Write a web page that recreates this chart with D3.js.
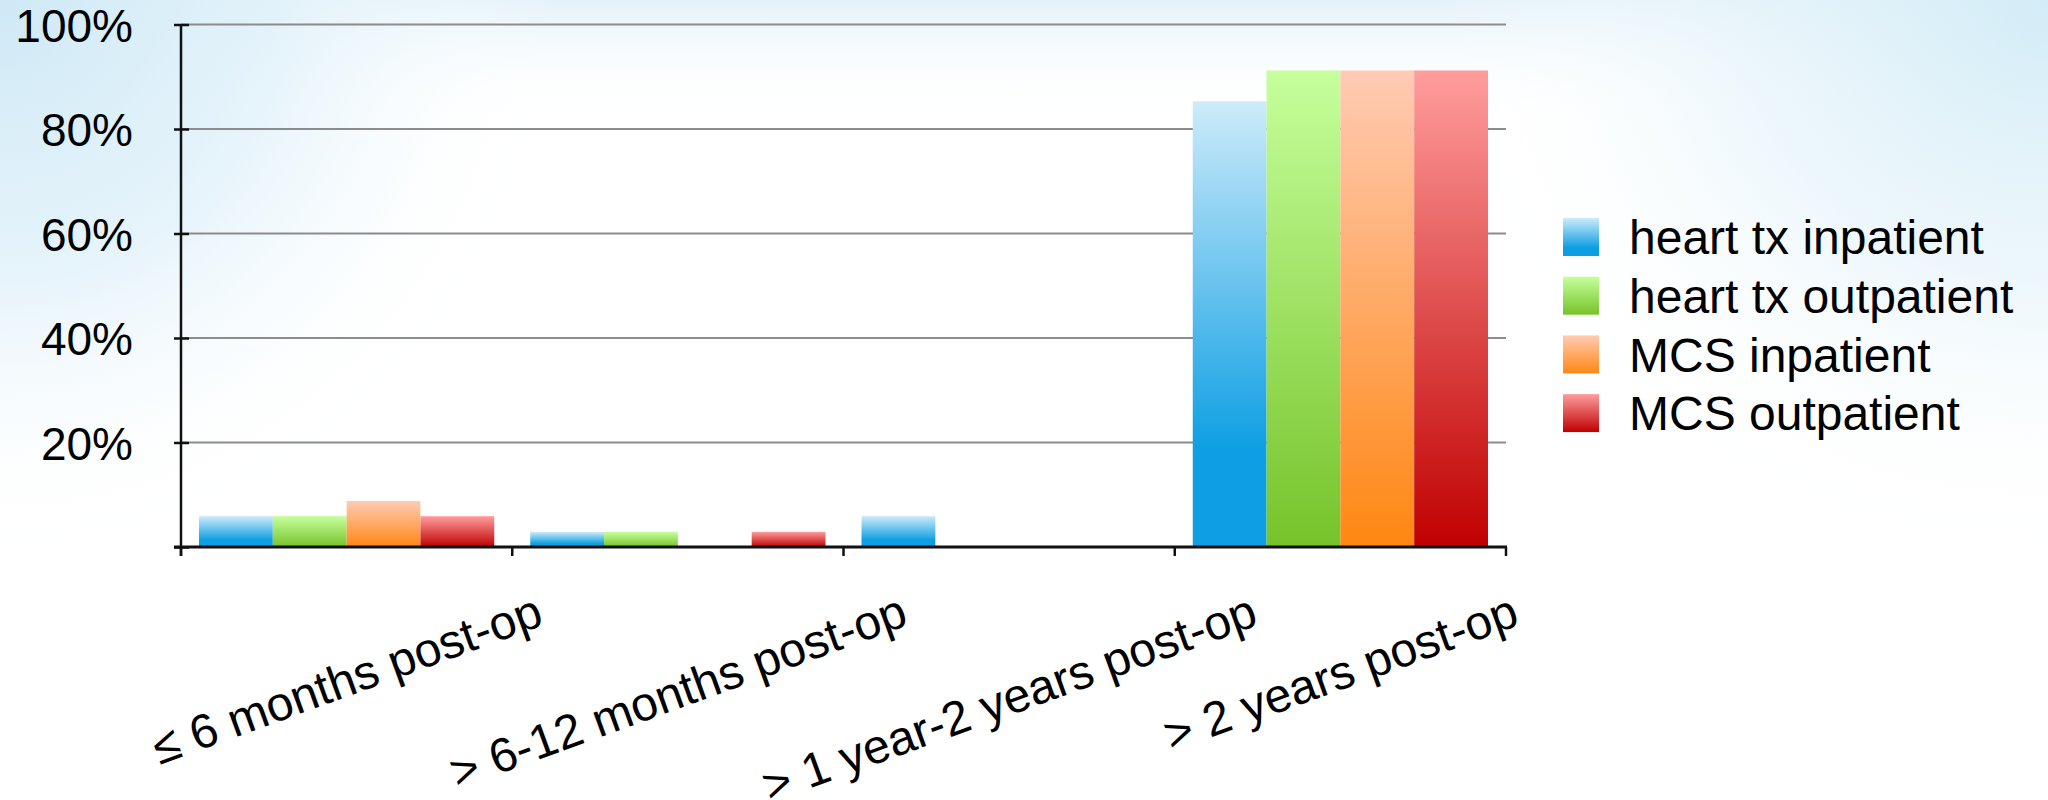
<!DOCTYPE html>
<html>
<head>
<meta charset="utf-8">
<script src="https://cdn.jsdelivr.net/npm/d3@7"></script>
<style>
  html, body { margin: 0; padding: 0; background: #fff; }
  svg { display: block; }
  text { font-family: "Liberation Sans", Arial, Helvetica, sans-serif; fill: #000; }
</style>
</head>
<body>
<svg id="chart" width="2048" height="800"></svg>
<script>
// ---- data ----
const categories = ["\u2264 6 months post-op", "> 6-12 months post-op", "> 1 year-2 years post-op", "> 2 years post-op"];
const seriesNames = ["heart tx inpatient", "heart tx outpatient", "MCS inpatient", "MCS outpatient"];
const heartTxInpatient  = [5.9, 2.9, 5.9, 85.3];
const heartTxOutpatient = [5.9, 2.9, 0, 91.2];
const mcsInpatient      = [8.8, 0, 0, 91.2];
const mcsOutpatient     = [5.9, 2.9, 0, 91.2];
const yTicks = [0, 20, 40, 60, 80, 100];
const yTickLabels = ["", "20%", "40%", "60%", "80%", "100%"];

const seriesValues = [heartTxInpatient, heartTxOutpatient, mcsInpatient, mcsOutpatient];
const gradColors = [
  {top: "#cdebfa", bottom: "#0e9fe3", stop: 0.78},
  {top: "#c6ff9c", bottom: "#76c32a", stop: 1},
  {top: "#ffcbb4", bottom: "#ff8712", stop: 1},
  {top: "#ff9d9d", bottom: "#c00000", stop: 1}
];

const svg = d3.select("#chart");
const defs = svg.append("defs");

// background glows
const bgTL = defs.append("radialGradient").attr("id", "bgTL")
  .attr("gradientUnits", "userSpaceOnUse").attr("cx", 0).attr("cy", 0).attr("r", 560);
bgTL.append("stop").attr("offset", 0).attr("stop-color", "#cfe9f6").attr("stop-opacity", 1);
bgTL.append("stop").attr("offset", 0.5).attr("stop-color", "#e2f2fa").attr("stop-opacity", 0.85);
bgTL.append("stop").attr("offset", 1).attr("stop-color", "#ffffff").attr("stop-opacity", 0);
const bgTR = defs.append("radialGradient").attr("id", "bgTR")
  .attr("gradientUnits", "userSpaceOnUse").attr("cx", 2048).attr("cy", 0).attr("r", 560)
  .attr("gradientTransform", "translate(2048,0) scale(1.1,1.0) translate(-2048,0)");
bgTR.append("stop").attr("offset", 0).attr("stop-color", "#d3ecf7").attr("stop-opacity", 1);
bgTR.append("stop").attr("offset", 0.5).attr("stop-color", "#e6f4fa").attr("stop-opacity", 0.7);
bgTR.append("stop").attr("offset", 1).attr("stop-color", "#ffffff").attr("stop-opacity", 0);
const bgTop = defs.append("linearGradient").attr("id", "bgTop").attr("x1", 0).attr("y1", 0).attr("x2", 0).attr("y2", 1);
bgTop.append("stop").attr("offset", 0).attr("stop-color", "#e3f2f9").attr("stop-opacity", 1);
bgTop.append("stop").attr("offset", 1).attr("stop-color", "#ffffff").attr("stop-opacity", 0);

svg.append("rect").attr("width", 2048).attr("height", 800).attr("fill", "#ffffff");
svg.append("rect").attr("width", 2048).attr("height", 120).attr("fill", "url(#bgTop)");
svg.append("rect").attr("width", 2048).attr("height", 800).attr("fill", "url(#bgTL)");
svg.append("rect").attr("width", 2048).attr("height", 800).attr("fill", "url(#bgTR)");

// bar gradients
gradColors.forEach((g, i) => {
  const lg = defs.append("linearGradient").attr("id", "g" + i)
    .attr("x1", 0).attr("y1", 0).attr("x2", 0).attr("y2", 1);
  lg.append("stop").attr("offset", 0).attr("stop-color", g.top);
  lg.append("stop").attr("offset", g.stop).attr("stop-color", g.bottom);
  lg.append("stop").attr("offset", 1).attr("stop-color", g.bottom);
});

// scales
const plotLeft = 181, plotRight = 1506, y0 = 547, yTop = 24.5;
const x0 = d3.scaleBand().domain(categories).range([plotLeft, plotRight]).paddingInner(0).paddingOuter(0);
const groupPad = 18;
const x1 = d3.scaleBand().domain(d3.range(seriesNames.length))
  .range([groupPad, x0.bandwidth() - groupPad]).padding(0);
const y = d3.scaleLinear().domain([0, 100]).range([y0, yTop]);

// gridlines
svg.append("g").selectAll("line").data(yTicks.filter(v => v > 0)).join("line")
  .attr("x1", plotLeft).attr("x2", plotRight)
  .attr("y1", d => y(d)).attr("y2", d => y(d))
  .attr("stroke", "#8c8c8c").attr("stroke-width", 2);

// bars
const barData = [];
categories.forEach((c, ci) => {
  seriesValues.forEach((vals, si) => {
    barData.push({c, si, v: vals[ci]});
  });
});
svg.append("g").selectAll("rect").data(barData.filter(d => d.v > 0)).join("rect")
  .attr("x", d => x0(d.c) + x1(d.si))
  .attr("width", x1.bandwidth())
  .attr("y", d => y(d.v))
  .attr("height", d => y(0) - y(d.v))
  .attr("fill", d => "url(#g" + d.si + ")");

// y axis
const yAxis = d3.axisLeft(y).tickValues(yTicks)
  .tickFormat((d, i) => yTickLabels[i]).tickSize(7).tickPadding(41);
const yg = svg.append("g").attr("transform", `translate(${plotLeft},0)`).call(yAxis);
yg.select(".domain").attr("stroke", "#111").attr("stroke-width", 2.5)
  .attr("d", `M0,${y(100)}V${y0 + 9}`);
yg.selectAll(".tick line").attr("stroke", "#111").attr("stroke-width", 2.5)
  .attr("x1", -7).attr("x2", 8);
yg.selectAll(".tick text").attr("font-size", 46).attr("font-family", '"Liberation Sans", Arial, sans-serif')
  .attr("fill", "#000").attr("dy", "0.36em");

// x axis
const xg = svg.append("g");
xg.append("line").attr("x1", plotLeft - 7).attr("x2", plotRight + 1)
  .attr("y1", y0).attr("y2", y0).attr("stroke", "#111").attr("stroke-width", 3);
const boundaries = categories.map(c => x0(c)).concat([x0.range()[1]]);
xg.selectAll("line.tk").data(boundaries).join("line").attr("class", "tk")
  .attr("x1", d => d).attr("x2", d => d)
  .attr("y1", y0).attr("y2", y0 + 9).attr("stroke", "#111").attr("stroke-width", 2.5);

// category labels (rotated, bounding box top aligned)
const ang = 20 * Math.PI / 180;
const labelTop = 588, fs = 48, glyphH = 44;
xg.selectAll("text.cat").data(categories).join("text").attr("class", "cat")
  .attr("font-size", fs).attr("text-anchor", "middle").attr("dy", "0.35em")
  .text(d => d)
  .each(function(d) {
    const L = this.getComputedTextLength();
    const V = L * Math.sin(ang) + glyphH * Math.cos(ang);
    const cx = x0(d) + x0.bandwidth() / 2;
    const cy = labelTop + V / 2;
    d3.select(this).attr("transform", `translate(${cx},${cy}) rotate(-20)`);
  });

// legend
const legend = svg.append("g").attr("transform", "translate(1563,218)");
const rowH = 58.7;
const lg = legend.selectAll("g").data(seriesNames).join("g")
  .attr("transform", (d, i) => `translate(0,${i * rowH})`);
lg.append("rect").attr("width", 36).attr("height", 38).attr("fill", (d, i) => "url(#g" + i + ")");
lg.append("text").attr("x", 66).attr("y", 19).attr("dy", "0.36em").attr("font-size", 48).text(d => d);
</script>
</body>
</html>
